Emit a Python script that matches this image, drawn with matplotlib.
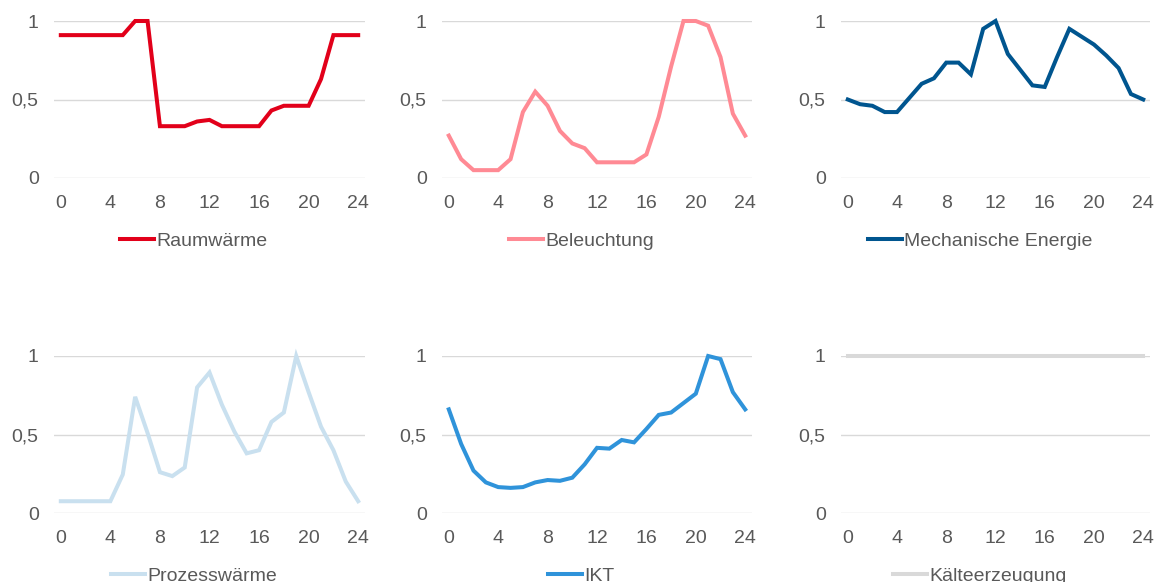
import numpy as np
import matplotlib
matplotlib.use("Agg")
import matplotlib.pyplot as plt

plt.rcParams['font.family'] = ['Liberation Sans', 'DejaVu Sans']

# hourly load profiles (normalised to the daily peak)
hours = list(range(25))

raumwaerme = [0.91, 0.91, 0.91, 0.91, 0.91, 0.91, 1.0, 1.0, 0.33, 0.33, 0.33, 0.36, 0.37,
              0.33, 0.33, 0.33, 0.33, 0.43, 0.46, 0.46, 0.46, 0.63, 0.91, 0.91, 0.91]
beleuchtung = [0.27, 0.12, 0.05, 0.05, 0.05, 0.12, 0.42, 0.55, 0.46, 0.30, 0.22, 0.19, 0.10,
               0.10, 0.10, 0.10, 0.15, 0.39, 0.71, 1.0, 1.0, 0.97, 0.77, 0.41, 0.27]
mechanisch = [0.50, 0.47, 0.46, 0.42, 0.42, 0.51, 0.60, 0.635, 0.735, 0.735, 0.66, 0.95, 1.0,
              0.79, 0.69, 0.59, 0.58, 0.77, 0.95, 0.90, 0.85, 0.78, 0.70, 0.535, 0.50]
prozesswaerme = [0.075, 0.075, 0.075, 0.075, 0.075, 0.245, 0.74, 0.51, 0.26, 0.235, 0.29, 0.80, 0.895,
                 0.69, 0.52, 0.38, 0.40, 0.58, 0.64, 1.0, 0.77, 0.55, 0.40, 0.20, 0.075]
ikt = [0.66, 0.44, 0.27, 0.195, 0.165, 0.16, 0.165, 0.195, 0.21, 0.205, 0.225, 0.31, 0.415,
       0.41, 0.465, 0.45, 0.535, 0.625, 0.64, 0.70, 0.76, 1.0, 0.98, 0.77, 0.66]
kaelte = [1.0] * 25

series = [
    ("Raumwärme", raumwaerme, "#E2001A"),
    ("Beleuchtung", beleuchtung, "#FF8A94"),
    ("Mechanische Energie", mechanisch, "#00558F"),
    ("Prozesswärme", prozesswaerme, "#C9E0EF"),
    ("IKT", ikt, "#2F93DA"),
    ("Kälteerzeugung", kaelte, "#D9D9D9"),
]

W, H = 1155, 582
fig = plt.figure(figsize=(W / 100, H / 100), dpi=100)

lefts = [54, 442, 841]
widths = [311, 310, 309]
rows = [(21, 178), (356, 513)]

txt = "#595959"
for i, (name, vals, col) in enumerate(series):
    r, c = divmod(i, 3)
    top, bot = rows[r]
    ax = fig.add_axes([lefts[c] / W, 1 - bot / H, widths[c] / W, (bot - top) / H])
    ax.plot(hours, vals, color=col, lw=2.9, clip_on=False, label=name, zorder=3,
            solid_joinstyle="miter")
    ax.set_xlim(-0.55, 24.55)
    ax.set_ylim(0, 1)
    ax.set_xticks(range(0, 25, 4))
    ax.set_yticks([0, 0.5, 1])
    ax.set_yticklabels(["0", "0,5", "1"])
    for s in ax.spines.values():
        s.set_visible(False)
    ax.grid(axis="y", color="#D9D9D9", lw=1.0)
    ax.set_axisbelow(True)
    ax.tick_params(length=0, labelsize=14, colors=txt)
    ax.tick_params(axis="x", pad=12)
    ax.tick_params(axis="y", pad=11)
    leg = ax.legend(loc="center", bbox_to_anchor=(0.45, -0.4), frameon=False,
                    fontsize=14, handlelength=1.75, handletextpad=0.1, labelcolor=txt)

fig.savefig("out.png", dpi=100)
